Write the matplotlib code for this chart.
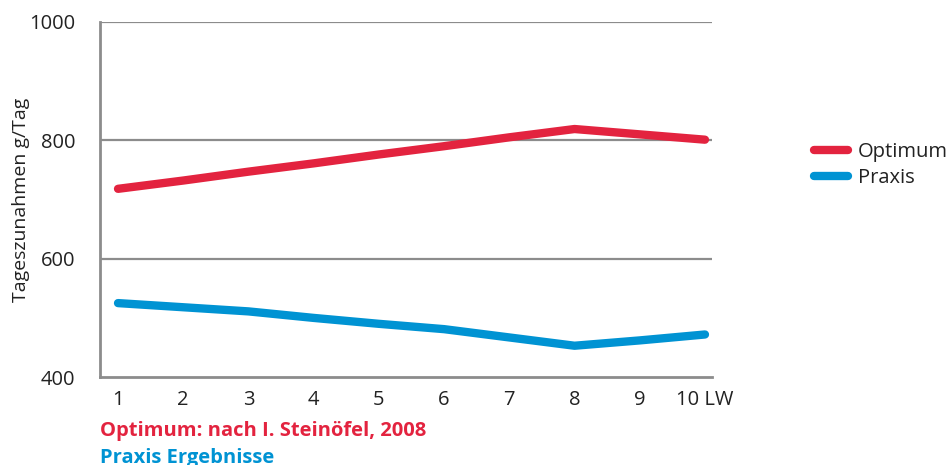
import matplotlib.pyplot as plt

# Lebenswoche (LW) and daily weight gain in g/Tag
weeks = [1, 2, 3, 4, 5, 6, 7, 8, 9, 10]
week_labels = ["1", "2", "3", "4", "5", "6", "7", "8", "9", "10 LW"]
optimum = [718, 732, 747, 761, 776, 790, 805, 819, 810, 801]
praxis = [525, 518, 511, 500, 490, 481, 467, 453, 462, 472]
y_ticks = [400, 600, 800, 1000]

red = "#e3233f"
blue = "#0093d3"
grey = "#8c8c8c"
text_col = "#222222"

plt.rcParams["font.family"] = ["Open Sans", "DejaVu Sans"]

fig = plt.figure(figsize=(9.48, 4.65), dpi=100)
ax = fig.add_axes([0.1055, 0.189, 0.6455, 0.764])

ax.plot(weeks, optimum, color=red, lw=6, solid_capstyle="round",
        solid_joinstyle="round", label="Optimum", zorder=3)
ax.plot(weeks, praxis, color=blue, lw=6, solid_capstyle="round",
        solid_joinstyle="round", label="Praxis", zorder=3)

ax.set_xlim(0.724, 10.107)
ax.set_ylim(400, 1000)
ax.set_xticks(weeks)
ax.set_xticklabels(week_labels)
ax.set_yticks(y_ticks)

for y in y_ticks[1:]:
    ax.axhline(y, color=grey, lw=1.6, zorder=1)

for side in ["top", "right"]:
    ax.spines[side].set_visible(False)
for side in ["left", "bottom"]:
    ax.spines[side].set_color(grey)
    ax.spines[side].set_linewidth(2)

ax.tick_params(axis="both", length=0, labelsize=14.5, colors=text_col)
ax.tick_params(axis="y", pad=18)
ax.tick_params(axis="x", pad=9)
ax.set_ylabel("Tageszunahmen g/Tag", fontsize=14, color=text_col)
ax.yaxis.set_label_coords(-0.114, 0.5)

ax.legend(loc="upper left", bbox_to_anchor=(1.153, 0.685), frameon=False,
          fontsize=14.5, handlelength=1.7, handletextpad=0.5,
          labelspacing=0.3, borderaxespad=0, labelcolor=text_col)

fig.text(0.1055, 0.074, "Optimum: nach I. Steinöfel, 2008", color=red,
         fontsize=14.5, fontweight="bold", va="center")
fig.text(0.1055, 0.016, "Praxis Ergebnisse", color=blue,
         fontsize=14.5, fontweight="bold", va="center")

fig.savefig("out.png", dpi=100)
